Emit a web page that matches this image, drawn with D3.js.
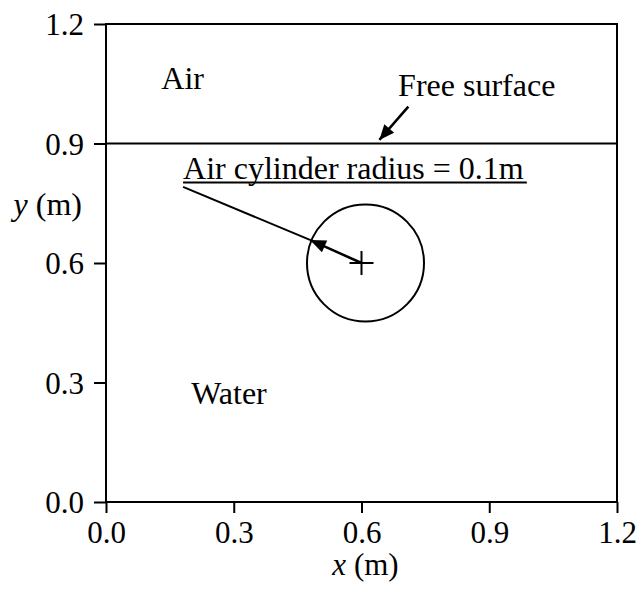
<!DOCTYPE html>
<html>
<head>
<meta charset="utf-8">
<script src="https://cdn.jsdelivr.net/npm/d3@7"></script>
<style>
  html, body { margin: 0; padding: 0; background: #fff; }
  svg text { font-family: "Liberation Serif", "Times New Roman", serif; fill: #000; }
</style>
</head>
<body>
<svg id="chart" width="636" height="592"></svg>
<script>
// Domain and tick values (metres)
const xTicks = [0.0, 0.3, 0.6, 0.9, 1.2];
const yTicks = [0.0, 0.3, 0.6, 0.9, 1.2];
const xDomain = [0, 1.2];
const yDomain = [0, 1.2];

// Free surface level and air cylinder geometry
const freeSurfaceY = 0.9;
const cylinderCenter = [0.6, 0.6];
const cylinderDrawnRadius = 0.1374;   // radius of the sketched circle along x
const cylinderLabel = "Air cylinder radius = 0.1m";

// Annotation anchors (data coordinates)
const radiusLabelPos = [0.181, 0.811];
const radiusLeaderStart = [0.181, 0.791];
const radiusArrowTip = [0.479, 0.658];
const freeSurfaceLabelPos = [0.686, 1.019];
const freeSurfaceArrow = [[0.710, 0.9925], [0.642, 0.909]];
const regionLabels = [
  { text: "Air",   pos: [0.130, 1.037] },
  { text: "Water", pos: [0.200, 0.247] }
];

const svg = d3.select("#chart");
const margin = { left: 106, right: 19, top: 24, bottom: 90 };
const W = 636, H = 592;

const x = d3.scaleLinear().domain(xDomain).range([margin.left, W - margin.right]);
const y = d3.scaleLinear().domain(yDomain).range([H - margin.bottom, margin.top]);

const fmt = d3.format(".1f");
const FS = 32;      // annotation text
const TFS = 31;     // tick labels

// Axes (ticks and labels only; the frame is drawn as a rectangle)
const gx = svg.append("g")
  .attr("transform", `translate(0,${y(0)})`)
  .call(d3.axisBottom(x).tickValues(xTicks).tickFormat(fmt).tickSize(11).tickPadding(8));
const gy = svg.append("g")
  .attr("transform", `translate(${x(0)},0)`)
  .call(d3.axisLeft(y).tickValues(yTicks).tickFormat(fmt).tickSize(12).tickPadding(10));
[gx, gy].forEach(g => {
  g.select(".domain").remove();
  g.selectAll(".tick line").attr("stroke", "#000").attr("stroke-width", 2);
  g.selectAll(".tick text").style("font-size", TFS + "px")
    .style("font-family", '"Liberation Serif", "Times New Roman", serif').attr("fill", "#000");
});
gy.selectAll(".tick text").attr("dy", "0.34em");

// Plot frame
svg.append("rect")
  .attr("x", x(0)).attr("y", y(1.2))
  .attr("width", x(1.2) - x(0)).attr("height", y(0) - y(1.2))
  .attr("fill", "none").attr("stroke", "#000").attr("stroke-width", 2);

// Axis titles
const xt = svg.append("text")
  .attr("x", x(0.6) + 4).attr("y", 575)
  .attr("text-anchor", "middle").style("font-size", "31px");
xt.append("tspan").style("font-style", "italic").text("x");
xt.append("tspan").text(" (m)");

const yt = svg.append("text")
  .attr("x", 82).attr("y", 215)
  .attr("text-anchor", "end").style("font-size", FS + "px");
yt.append("tspan").style("font-style", "italic").text("y");
yt.append("tspan").text(" (m)");

// Free surface
svg.append("line")
  .attr("x1", x(0)).attr("x2", x(1.2))
  .attr("y1", y(freeSurfaceY)).attr("y2", y(freeSurfaceY))
  .attr("stroke", "#000").attr("stroke-width", 2);

// Air cylinder
const cx = x(cylinderCenter[0]), cy = y(cylinderCenter[1]);
const rPx = x(cylinderCenter[0] + cylinderDrawnRadius) - cx;
svg.append("circle")
  .attr("cx", cx + 4).attr("cy", cy).attr("r", rPx)
  .attr("fill", "none").attr("stroke", "#000").attr("stroke-width", 2);

// Centre cross
const arm = 12;
svg.append("path")
  .attr("d", `M${cx - arm},${cy}H${cx + arm}M${cx},${cy - arm}V${cy + arm}`)
  .attr("stroke", "#000").attr("stroke-width", 2).attr("fill", "none");

// Filled arrowhead helper
function arrowHead(tip, from, len, half) {
  const dx = tip[0] - from[0], dy = tip[1] - from[1];
  const d = Math.hypot(dx, dy), ux = dx / d, uy = dy / d;
  const bx = tip[0] - ux * len, by = tip[1] - uy * len;
  svg.append("path")
    .attr("d", `M${tip[0]},${tip[1]}L${bx - uy * half},${by + ux * half}L${bx + uy * half},${by - ux * half}Z`)
    .attr("fill", "#000");
}

// Radius leader line and arrow
const lead0 = [x(radiusLeaderStart[0]), y(radiusLeaderStart[1])];
const tipR = [x(radiusArrowTip[0]), y(radiusArrowTip[1])];
svg.append("line")
  .attr("x1", lead0[0]).attr("y1", lead0[1]).attr("x2", tipR[0]).attr("y2", tipR[1])
  .attr("stroke", "#000").attr("stroke-width", 2);
svg.append("line")
  .attr("x1", cx).attr("y1", cy).attr("x2", tipR[0]).attr("y2", tipR[1])
  .attr("stroke", "#000").attr("stroke-width", 2.5);
arrowHead(tipR, [cx, cy], 16, 6.5);

// Radius label with underline
const rlx = x(radiusLabelPos[0]), rly = y(radiusLabelPos[1]);
const rl = svg.append("text")
  .attr("x", rlx).attr("y", rly)
  .style("font-size", FS + "px")
  .text(cylinderLabel);
const bb = rl.node().getBBox();
svg.append("line")
  .attr("x1", rlx).attr("x2", bb.x + bb.width + 3)
  .attr("y1", rly + 3.5).attr("y2", rly + 3.5)
  .attr("stroke", "#000").attr("stroke-width", 2);

// Free surface label and arrow
svg.append("text")
  .attr("x", x(freeSurfaceLabelPos[0])).attr("y", y(freeSurfaceLabelPos[1]))
  .style("font-size", FS + "px").text("Free surface");
const fa0 = [x(freeSurfaceArrow[0][0]), y(freeSurfaceArrow[0][1])];
const fa1 = [x(freeSurfaceArrow[1][0]), y(freeSurfaceArrow[1][1])];
svg.append("line")
  .attr("x1", fa0[0]).attr("y1", fa0[1]).attr("x2", fa1[0]).attr("y2", fa1[1])
  .attr("stroke", "#000").attr("stroke-width", 2.5);
arrowHead(fa1, fa0, 15, 6.5);

// Region labels
svg.selectAll("text.region").data(regionLabels).enter().append("text")
  .attr("class", "region")
  .attr("x", d => x(d.pos[0])).attr("y", d => y(d.pos[1]))
  .style("font-size", FS + "px")
  .text(d => d.text);
</script>
</body>
</html>
